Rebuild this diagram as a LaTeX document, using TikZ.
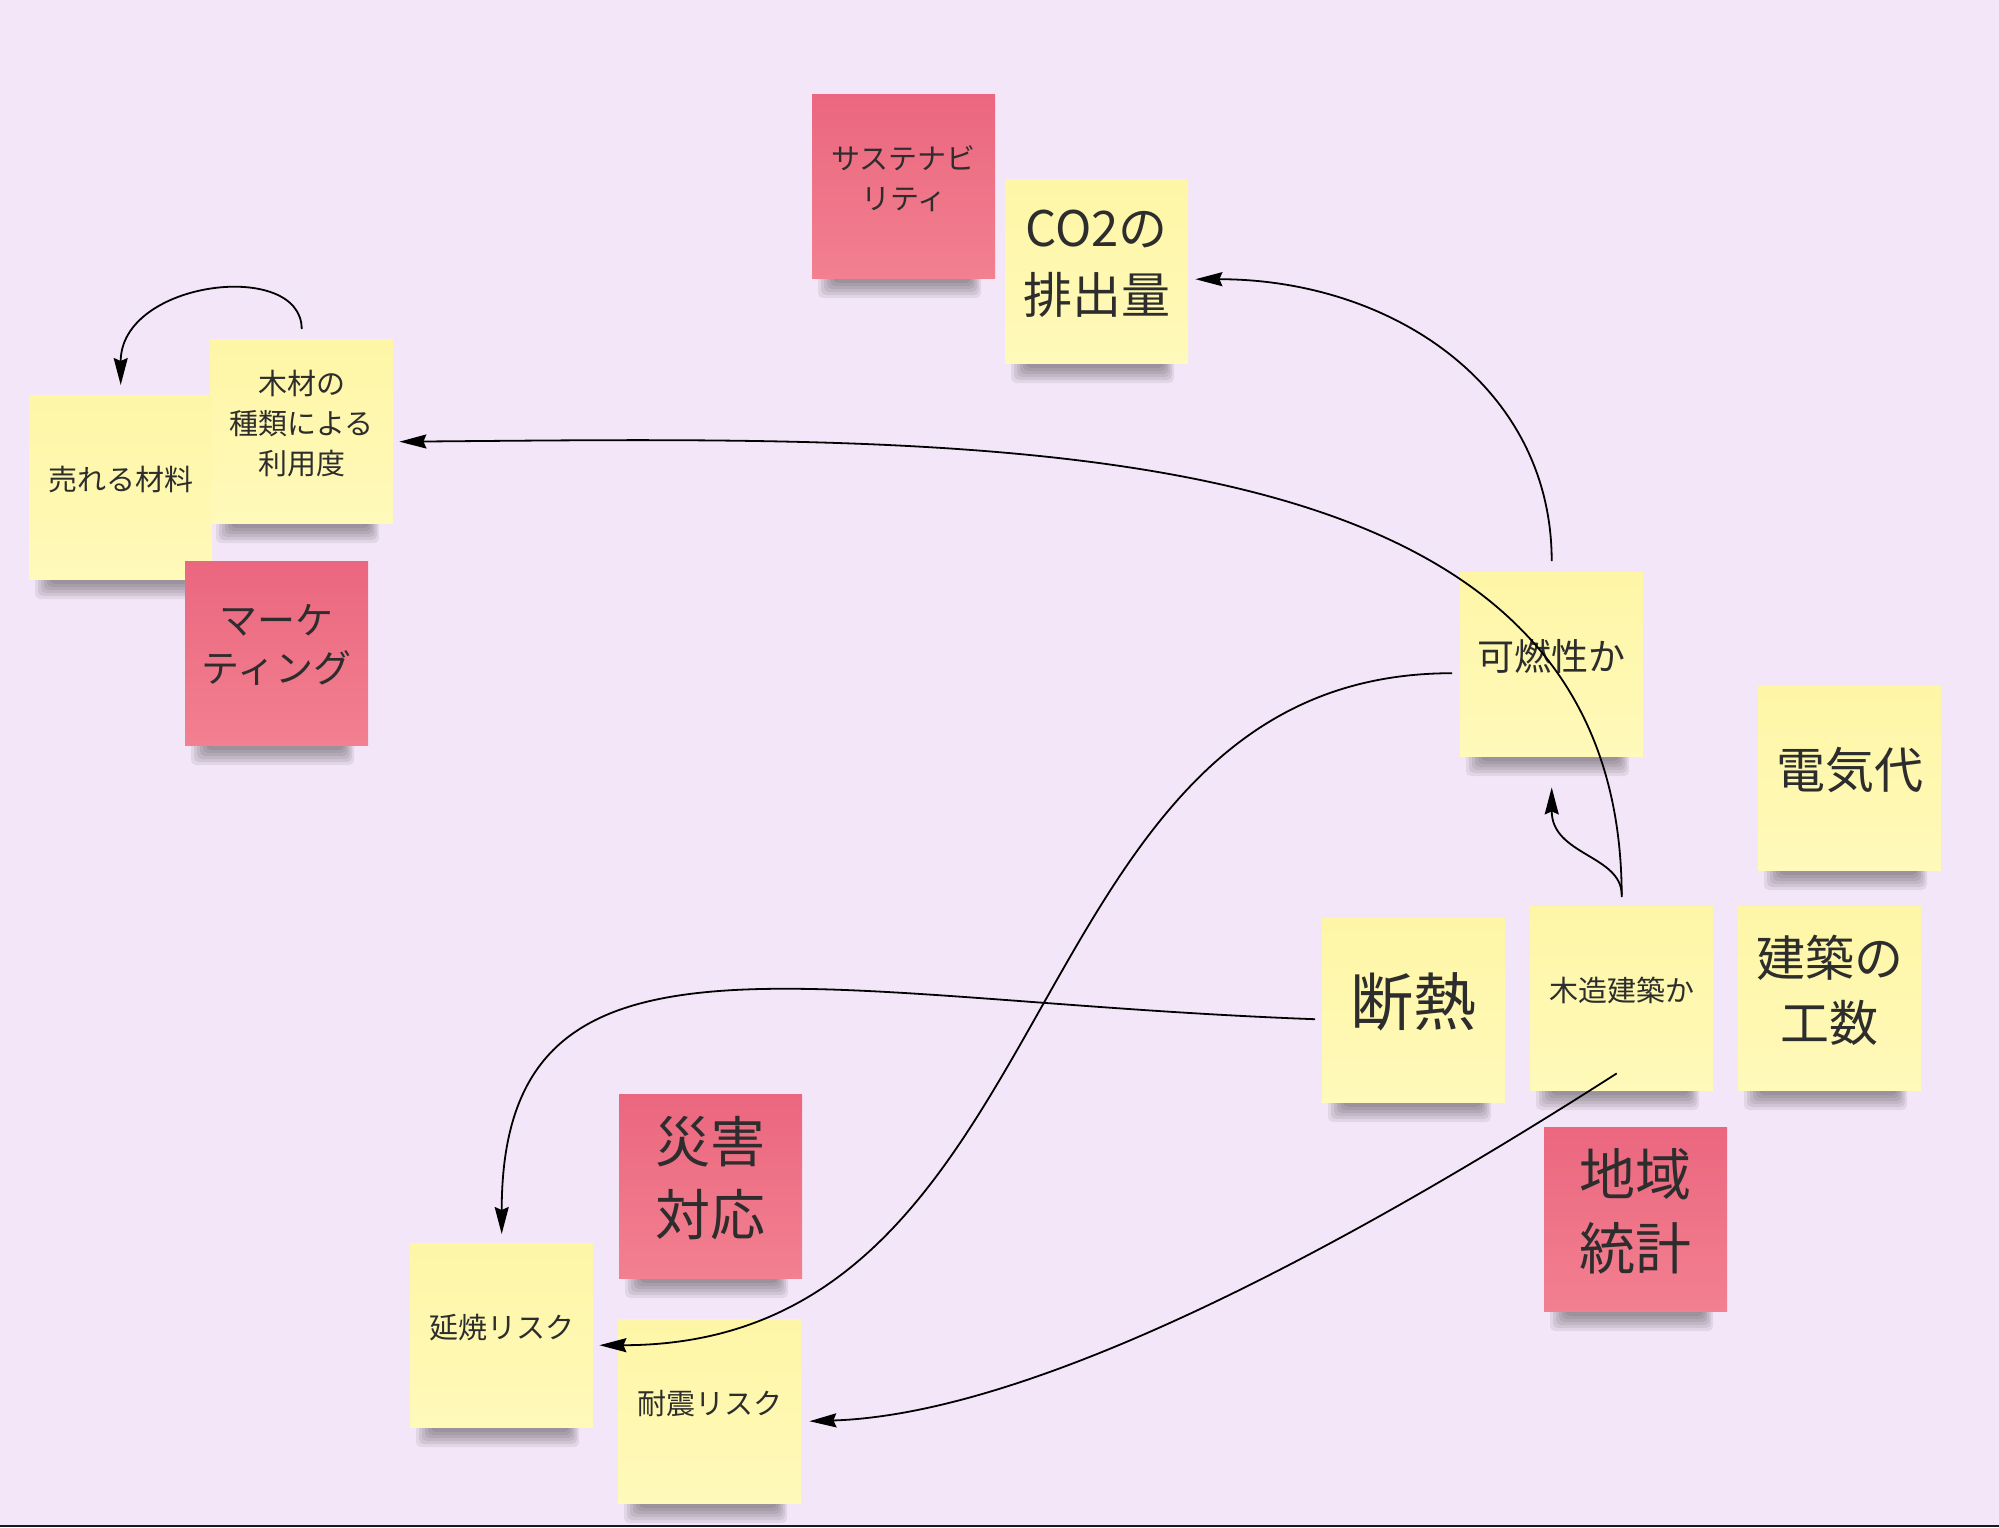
\documentclass[tikz,border=0pt]{standalone}
\usepackage{fontspec}
\newfontfamily\jp{Noto Sans CJK JP}
\usetikzlibrary{arrows.meta}
\definecolor{bg}{RGB}{243,230,248}
\definecolor{ytop}{RGB}{254,246,166}
\definecolor{ybot}{RGB}{255,249,186}
\definecolor{rtop}{RGB}{235,103,127}
\definecolor{rbot}{RGB}{242,128,144}
\definecolor{ink}{RGB}{45,45,45}
\newcommand\sticky[7]{%
  \foreach \k in {0,...,5}{\fill[black,opacity=0.07,rounded corners=5pt] (#3+6+3*\k, #4+179) rectangle (#3+169-2*\k, #4+204-3*\k);}
  \node[#2] (#1) at (#3,#4) {};
  \node[lbl={#5}{#6}] (#1t) at ([yshift=8pt]#1.center) {#7};
}
\begin{document}
\begin{tikzpicture}[x=1pt,y=-1pt,
  notebase/.style={rectangle, anchor=north west, minimum width=183pt, minimum height=184pt, inner sep=0pt, draw=none},
  ynote/.style={notebase, top color=ytop, bottom color=ybot},
  rnote/.style={notebase, top color=rtop, bottom color=rbot},
  lbl/.style 2 args={font=\jp\fontsize{#1}{#2}\selectfont, text=ink, align=center, inner sep=0pt},
  conn/.style={draw=black, line width=1.8pt, -{Stealth[length=27pt,width=14pt,inset=3pt]}}]
\useasboundingbox (0,0) rectangle (1999,1527);
\fill[bg] (0,0) rectangle (1999,1527);
\fill[black!90] (0,1524.5) rectangle (1999,1527);

\sticky{sust}{rnote}{812}{94}{29}{40}{サステナビ\\リティ}
\sticky{co2}{ynote}{1005}{179}{49}{67}{CO2の\\排出量}
\sticky{mokuzai}{ynote}{210}{339}{29}{40}{木材の\\種類による\\利用度}
\sticky{ureru}{ynote}{29}{395}{29}{40}{売れる材料}
\sticky{mkt}{rnote}{185}{561}{38}{48}{マーケ\\ティング}
\sticky{kanen}{ynote}{1460}{572}{37}{48}{可燃性か}
\sticky{denki}{ynote}{1758}{686}{49}{67}{電気代}
\sticky{dannetsu}{ynote}{1322}{918}{63}{80}{断熱}
\sticky{mokuzo}{ynote}{1530}{906}{29}{40}{木造建築か}
\sticky{kosu}{ynote}{1738}{906}{49}{65}{建築の\\工数}
\sticky{chiiki}{rnote}{1544}{1127}{56}{74}{地域\\統計}
\sticky{saigai}{rnote}{619}{1094}{55}{73}{災害\\対応}
\sticky{enshou}{ynote}{410}{1243}{29}{40}{延焼リスク}
\sticky{taishin}{ynote}{618}{1319}{29}{40}{耐震リスク}

% connectors
\draw[conn] ([yshift=10pt]mokuzai.north) .. controls +(0,-70) and +(0,-105) .. ([yshift=10pt]ureru.north);
\draw[conn] ([yshift=11pt]kanen.north) .. controls +(0,-175) and +(196,0) .. ([xshift=7pt,yshift=-8pt]co2.east);
\draw[conn] ([yshift=9pt]mokuzo.north) .. controls +(0,-477) and +(601,-5) .. ([xshift=6pt,yshift=-10.5pt]mokuzai.east);
\draw[conn] ([yshift=11pt]mokuzo.north) .. controls +(0,-40) and +(0,68) .. ([yshift=-31pt]kanen.south);
\draw[conn] ([xshift=-8pt,yshift=-9pt]kanen.west) .. controls +(-446,0) and +(477,0) .. ([xshift=6pt,yshift=-10pt]enshou.east);
\draw[conn] ([xshift=-7pt,yshift=-9pt]dannetsu.west) .. controls +(-515,-19) and +(0,-334) .. ([yshift=9pt]enshou.north);
\draw[conn] ([xshift=-5pt,yshift=17pt]mokuzo.south) .. controls +(-350,224) and +(191,-6) .. ([xshift=8pt,yshift=-10pt]taishin.east);
\end{tikzpicture}
\end{document}
